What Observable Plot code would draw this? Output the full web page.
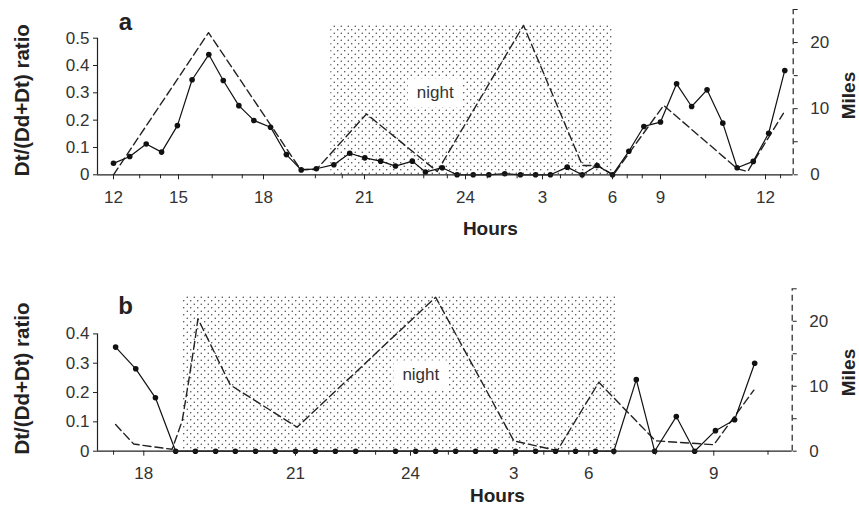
<!DOCTYPE html>
<html><head><meta charset="utf-8">
<script src="https://cdn.jsdelivr.net/npm/d3@7"></script>
<script src="https://cdn.jsdelivr.net/npm/@observablehq/plot@0.6"></script>
<style>
html,body{margin:0;padding:0;background:#fff;}
body{width:859px;height:507px;overflow:hidden;font-family:"Liberation Sans",Arial,sans-serif;}
#chart svg{display:block;}
</style></head><body><div id="chart"></div>
<script>
// ---------- Panel a ----------
const aRatioHours = [12.0,12.75,13.51,14.22,14.95,15.48,16.07,16.58,17.13,17.66,18.21,18.68,19.12,19.57,20.09,20.56,21.01,21.48,21.92,22.42,22.81,23.31,23.75,24.30,24.91,25.53,26.14,26.73,27.34,28.06,28.70,29.34,30.0,31.02,31.96,33.0,33.46,33.89,34.33,34.78,35.19,35.65,36.09,36.55];
const aRatio = [0.042,0.067,0.113,0.083,0.18,0.348,0.44,0.345,0.253,0.199,0.174,0.074,0.018,0.022,0.037,0.079,0.062,0.05,0.032,0.05,0.01,0.026,0,0,0,0.004,0,0,0,0.028,0,0.034,0,0.086,0.177,0.193,0.333,0.25,0.311,0.189,0.026,0.049,0.152,0.382];
const aMilesHours = [12.0,16.06,19.1,19.57,21.06,23.16,26.26,28.71,29.36,30.06,33.09,35.2,35.49,36.51];
const aMiles = [0,21.5,0.8,0.8,9.2,0.5,22.6,1.4,1.4,0,10.5,0.9,0.5,9.3];
const aNight = [20, 30];
const aTicks = [12,15,18,21,24,27,30,33,36];
const aTickLabels = ["12","15","18","21","24","3","6","9","12"];
const aMinorTicks = [13.21,14.17,16.19,17.25,19.54,20.34,22.76,23.46,24.85,26.01,27.77,28.70,30.92,31.86,34.29,36.43];
const aRatioTicks = [0,0.1,0.2,0.3,0.4,0.5];

// ---------- Panel b ----------
const bRatioHours = [17.44,17.84,18.23,18.63,19.02,19.42,19.81,20.21,20.60,21.0,21.52,22.04,22.57,23.61,24.15,24.73,25.31,25.89,26.47,27.07,27.87,28.67,29.47,30.16,30.6,31.14,31.58,32.1,32.54,33.04,33.5,33.98];
const bRatio = [0.355,0.281,0.182,0,0,0,0,0,0,0,0,0,0,0,0,0,0,0,0,0,0,0,0,0,0,0.244,0,0.118,0,0.07,0.107,0.30];
const bMilesHours = [17.44,17.80,18.26,18.56,18.76,18.89,19.02,19.07,19.71,21.04,24.73,27.0,28.74,30.24,31.6,33.0,33.96];
const bMiles = [4.1,1.1,0.6,0.3,4.7,10.9,17.5,20.4,10.2,3.7,23.7,1.6,0.1,10.6,1.6,1.0,9.4];
const bNight = [18.78, 30.64];
const bTicks = [18,21,24,27,30,33];
const bTickLabels = ["18","21","24","3","6","9"];
const bMinorTicks = [17.4,23.09,25.1,28.2,29.2,30.6,31.6,34.3];
const bRatioTicks = [0,0.1,0.2,0.3,0.4];

const milesMajor = [0,10,20];
const milesMinor = [5,15,25];

function makePanel(cfg) {
  const k = cfg.k; // ratio units per mile (aligns the two y axes)
  const yTop = 25 * k;
  const ratioData = cfg.ratioHours.map((h, i) => ({h, v: cfg.ratio[i]}));
  const milesData = cfg.milesHours.map((h, i) => ({h, v: cfg.miles[i] * k}));
  const labelOf = new Map(cfg.ticks.map((t, i) => [t, cfg.tickLabels[i]]));
  const xr = cfg.xRange;
  const svg = Plot.plot({
    width: 859, height: cfg.height,
    marginLeft: xr[0], marginRight: 859 - xr[xr.length - 1],
    marginTop: cfg.marginTop, marginBottom: cfg.marginBottom,
    style: {fontFamily: "Liberation Sans, Arial, sans-serif", fontSize: "17px", color: "#222", background: "white"},
    x: {type: "linear", domain: cfg.xDomain, range: xr, label: null},
    y: {domain: [0, yTop], label: null},
    marks: [
      Plot.rect([cfg.night], {x1: d => d[0], x2: d => d[1], y1: 0, y2: cfg.nightTop, fill: `url(#${cfg.id}-dots)`}),
      Plot.text(["night"], {x: cfg.nightLabel.hour, y: cfg.nightLabel.ratio, fontSize: 17, fill: "#333"}),
      Plot.line(milesData, {x: "h", y: "v", stroke: "#222", strokeWidth: 1.4, strokeDasharray: "8,4"}),
      Plot.line(ratioData, {x: "h", y: "v", stroke: "#111", strokeWidth: 1.2}),
      Plot.dot(ratioData, {x: "h", y: "v", r: 2.8, fill: "#111", stroke: "none"}),
      Plot.ruleY([0], {stroke: "#222", strokeWidth: 1.2}),
      Plot.ruleX([cfg.xDomain[0]], {y1: 0, y2: d3.max(cfg.ratioTicks), stroke: "#222", strokeWidth: 1.2}),
      Plot.ruleX([cfg.xDomain[cfg.xDomain.length - 1]], {y1: 0, y2: yTop, stroke: "#222", strokeWidth: 1.2, strokeDasharray: "6,4"}),
      Plot.axisX(cfg.ticks, {tickFormat: d => labelOf.get(d), tickSize: 5, tickPadding: 11, fontSize: 17, fill: "#333", label: null}),
      Plot.axisX(cfg.minorTicks, {tickFormat: () => "", tickSize: 4, label: null}),
      Plot.axisY(cfg.ratioTicks, {anchor: "left", tickFormat: d => d === 0 ? "0" : d.toFixed(1), tickSize: 4, tickPadding: 4, fontSize: 17, fill: "#333", label: null}),
      Plot.axisY(milesMajor.map(m => m * k), {anchor: "right", tickFormat: d => String(Math.round(d / k)), tickSize: 4, tickPadding: 13, fontSize: 17, fill: "#333", label: null}),
      Plot.axisY(milesMinor.map(m => m * k), {anchor: "right", tickFormat: () => "", tickSize: 4, label: null}),
      Plot.text([cfg.letter], {frameAnchor: "top-left", textAnchor: "middle", lineAnchor: "middle", dx: 28, dy: cfg.letterDy, fontSize: 24, fontWeight: "bold"}),
      Plot.text(["Dt/(Dd+Dt) ratio"], {frameAnchor: "left", textAnchor: "middle", lineAnchor: "middle", rotate: -90, dx: -75, dy: cfg.yTitleDy, fontSize: 20.5, fontWeight: "bold"}),
      Plot.text(["Miles"], {frameAnchor: "right", textAnchor: "middle", lineAnchor: "middle", rotate: -90, dx: cfg.milesDx, dy: cfg.milesDy, fontSize: 19, fontWeight: "bold"}),
      Plot.text(["Hours"], {frameAnchor: "bottom", textAnchor: "middle", lineAnchor: "middle", dx: cfg.hoursDx, dy: cfg.hoursDy, fontSize: 19, fontWeight: "bold"})
    ]
  });
  const s = d3.select(svg);
  const defs = s.insert("defs", ":first-child");
  const p = defs.append("pattern").attr("id", `${cfg.id}-dots`).attr("patternUnits", "userSpaceOnUse").attr("width", 7).attr("height", 7);
  p.append("circle").attr("cx", 1.75).attr("cy", 1.75).attr("r", 0.7).attr("fill", "#333");
  p.append("circle").attr("cx", 5.25).attr("cy", 5.25).attr("r", 0.7).attr("fill", "#333");
  return svg;
}

const chart = document.getElementById("chart");
const svgA = makePanel({
  id: "pa", k: 0.0242, height: 250, marginTop: 9, marginBottom: 75.7,
  xDomain: [11.25, ...aTicks, 36.79], xRange: [97,113,178,263,364,465,542,612,660,765,792.7],
  ratioHours: aRatioHours, ratio: aRatio, milesHours: aMilesHours, miles: aMiles,
  night: aNight, nightTop: 0.547, nightLabel: {hour: 23.1, ratio: 0.30},
  ticks: aTicks, tickLabels: aTickLabels, minorTicks: aMinorTicks, ratioTicks: aRatioTicks,
  letter: "a", letterDy: 12.7, yTitleDy: 8, milesDx: 55.5, milesDy: 3.4, hoursDx: 45, hoursDy: 54
});
const svgB = makePanel({
  id: "pb", k: 0.02215, height: 257, marginTop: 38.3, marginBottom: 56.3,
  xDomain: [17.08, ...bTicks, 34.88], xRange: [97,143.3,295,410,513.3,588.3,713.3,791.7],
  ratioHours: bRatioHours, ratio: bRatio, milesHours: bMilesHours, miles: bMiles,
  night: bNight, nightTop: 0.531, nightLabel: {hour: 24.3, ratio: 0.26},
  ticks: bTicks, tickLabels: bTickLabels, minorTicks: bMinorTicks, ratioTicks: bRatioTicks,
  letter: "b", letterDy: 17.5, yTitleDy: 8.5, milesDx: 56.5, milesDy: 2.5, hoursDx: 52.6, hoursDy: 44.5
});
chart.appendChild(svgA);
chart.appendChild(svgB);

// white box behind the "night" labels
for (const svg of [svgA, svgB]) {
  d3.select(svg).selectAll("text").filter(function() { return this.textContent === "night"; }).each(function() {
    const b = this.getBBox();
    const t = this;
    d3.select(this.parentNode).insert("rect", () => t)
      .attr("transform", this.getAttribute("transform"))
      .attr("x", b.x - 9).attr("y", b.y - 5)
      .attr("width", b.width + 18).attr("height", b.height + 10)
      .attr("fill", "white");
  });
}
</script>
</body></html>
